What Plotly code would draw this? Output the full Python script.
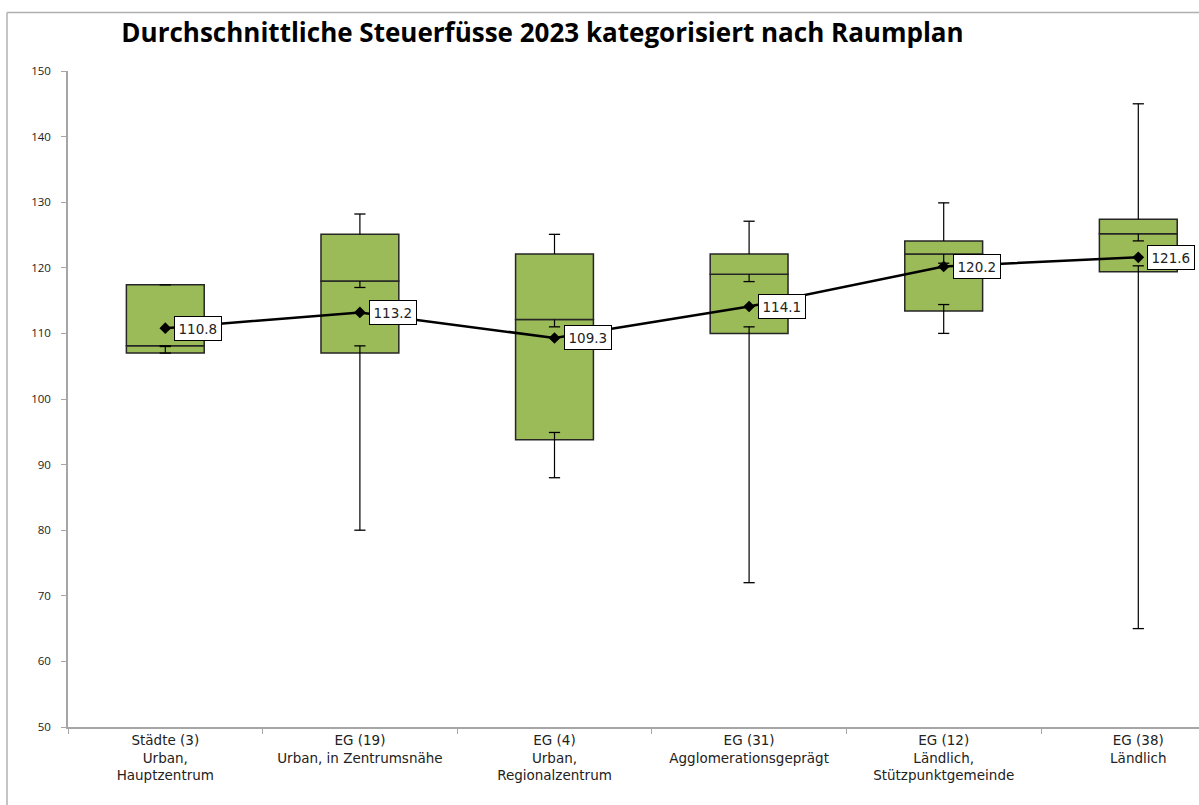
import plotly.graph_objects as go

categories = ["Städte (3)<br>Urban,<br>Hauptzentrum",
              "EG (19)<br>Urban, in Zentrumsnähe",
              "EG (4)<br>Urban,<br>Regionalzentrum",
              "EG (31)<br>Agglomerationsgeprägt",
              "EG (12)<br>Ländlich,<br>Stützpunktgemeinde",
              "EG (38)<br>Ländlich"]
q1 =      [107.0, 107.0, 93.8, 110.0, 113.4, 119.4]
median =  [108.1, 118.0, 112.1, 119.0, 122.1, 125.2]
q3 =      [117.4, 125.1, 122.1, 122.1, 124.1, 127.4]
w_min =   [107.0, 80.0, 88.0, 72.0, 110.0, 65.0]
lo_cap =  [108.0, 108.1, 94.9, 111.0, 114.4, 120.3]
hi_cap =  [108.1, 117.0, 111.0, 117.9, 120.7, 124.1]
w_max =   [117.4, 128.2, 125.1, 127.1, 129.9, 145.0]
mean =    [110.8, 113.2, 109.3, 114.1, 120.2, 121.6]
title_text = "Durchschnittliche Steuerfüsse 2023 kategorisiert nach Raumplan"

GREEN = "#9BBB59"
EDGE = "#262626"
AX = "#a6a6a6"

fig = go.Figure()
# lower box (Q1 -> median)
fig.add_trace(go.Bar(x=categories, y=[m - a for m, a in zip(median, q1)], base=q1,
                     width=0.4, marker=dict(color=GREEN, line=dict(color=EDGE, width=1.5)),
                     hoverinfo="skip", showlegend=False))
# upper box (median -> Q3)
fig.add_trace(go.Bar(x=categories, y=[c - m for c, m in zip(q3, median)], base=median,
                     width=0.4, marker=dict(color=GREEN, line=dict(color=EDGE, width=1.5)),
                     hoverinfo="skip", showlegend=False))

# whisker segments
wx, wy = [], []
for i, c in enumerate(categories):
    wx += [c, c, None]; wy += [w_min[i], lo_cap[i], None]
    wx += [c, c, None]; wy += [hi_cap[i], median[i], None]
    wx += [c, c, None]; wy += [q3[i], w_max[i], None]
fig.add_trace(go.Scatter(x=wx, y=wy, mode="lines", line=dict(color="black", width=1.2),
                         hoverinfo="skip", showlegend=False))
cx, cy = [], []
for i, c in enumerate(categories):
    cx += [c, c, c, c]; cy += [w_min[i], lo_cap[i], hi_cap[i], w_max[i]]
fig.add_trace(go.Scatter(x=cx, y=cy, mode="markers",
                         marker=dict(symbol="line-ew", size=8, line=dict(color="black", width=1.3)),
                         hoverinfo="skip", showlegend=False))

# mean line
fig.add_trace(go.Scatter(x=categories, y=mean, mode="lines+markers",
                         line=dict(color="black", width=2.5),
                         marker=dict(symbol="diamond", size=9, color="black"),
                         showlegend=False))

for c, m in zip(categories, mean):
    fig.add_annotation(x=c, y=m, text=f"{m:.1f}", showarrow=False, xanchor="left", yanchor="middle",
                       xshift=9, bgcolor="white", bordercolor="black", borderwidth=1, borderpad=3.5,
                       font=dict(family="DejaVu Sans", size=13.5, color="#222"))

W, H = 1199, 805
L, T, B = 68, 71, 78
PW = W - L
PH = H - T - B
FX0 = (7 - L) / PW
FY1 = (H - B - 12.5) / PH
fig.update_layout(
    width=W, height=H,
    margin=dict(l=L, r=0, t=T, b=B),
    paper_bgcolor="white", plot_bgcolor="white",
    barmode="overlay",
    title=dict(text=f"<b>{title_text}</b>", xref="paper", x=(542.5 - L) / PW, xanchor="center",
               yref="container", y=1 - 33 / H, yanchor="middle",
               font=dict(family="Open Sans", size=26, color="black")),
    shapes=[dict(type="line", xref="paper", yref="paper", x0=FX0, x1=1.0, y0=FY1, y1=FY1,
                 line=dict(color="#b0b0b0", width=1.5)),
            dict(type="line", xref="paper", yref="paper", x0=FX0, x1=FX0, y0=-0.12, y1=FY1,
                 line=dict(color="#b0b0b0", width=1.5))],
)
fig.update_xaxes(type="category", range=[-0.5, -0.5 + PW / 194.6], showline=True, linecolor=AX,
                 linewidth=1.5, ticks="outside", tickson="boundaries", ticklen=5, tickcolor=AX,
                 showgrid=False, zeroline=False,
                 tickfont=dict(family="DejaVu Sans", size=13.5, color="#222"))
fig.update_yaxes(range=[50, 150], dtick=10, showline=True, linecolor=AX, linewidth=1.5,
                 ticks="outside", ticklen=5, tickcolor=AX, showgrid=False, zeroline=False,
                 ticklabelstandoff=8,
                 tickfont=dict(family="Open Sans", size=11.5, color="#222"))

fig.write_html("out.html", config={"displayModeBar": False},
               post_script="document.body.style.margin='0';document.body.style.overflow='hidden';")
